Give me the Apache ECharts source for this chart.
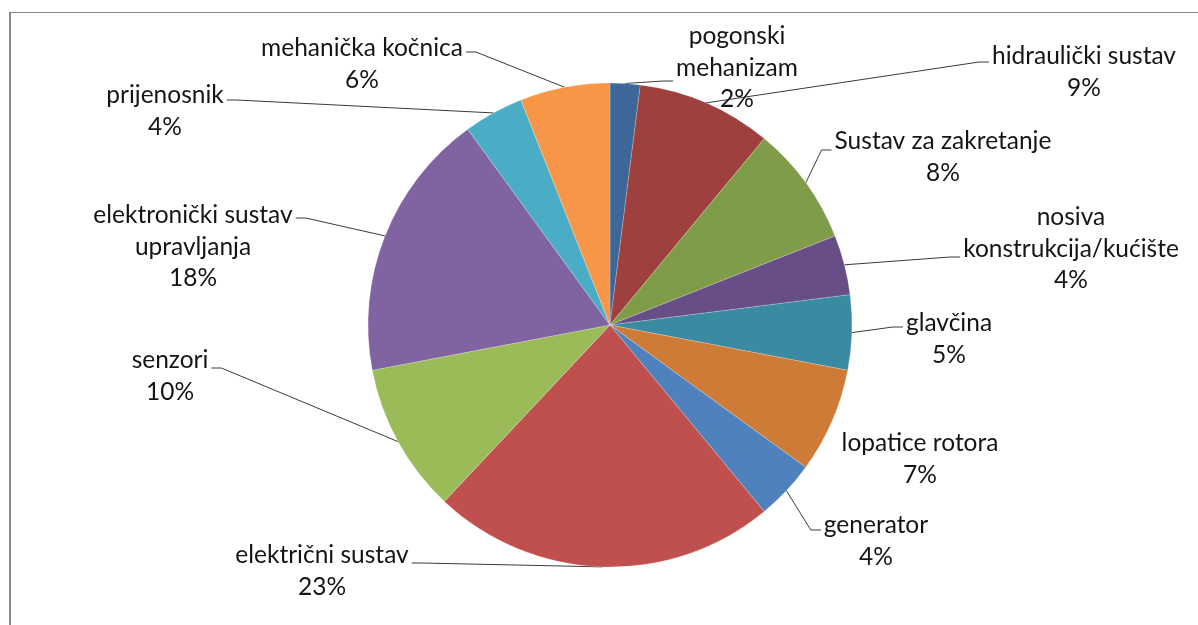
<!DOCTYPE html>
<html>
<head>
<meta charset="utf-8">
<script src="https://cdn.jsdelivr.net/npm/echarts@6/dist/echarts.min.js"></script>
<style>
  html, body { margin: 0; padding: 0; background: #fff; }
  #chart { width: 1198px; height: 625px; position: relative; }
  /* chart-area frame, runs off the right and bottom of the picture */
  .frame {
    position: absolute; left: 9px; top: 12px; width: 1300px; height: 700px;
    border-left: 2px solid #8a8a8a; border-top: 1.5px solid #8a8a8a;
    pointer-events: none;
  }
</style>
</head>
<body>
<div id="chart"></div>
<div class="frame"></div>
<script>
// categories, clockwise from 12 o'clock
const names = [
  'pogonski\nmehanizam', 'hidraulički sustav', 'Sustav za zakretanje',
  'nosiva\nkonstrukcija/kućište', 'glavčina', 'lopatice rotora', 'generator',
  'električni sustav', 'senzori', 'elektronički sustav\nupravljanja',
  'prijenosnik', 'mehanička kočnica',
]
const shares = [2, 9, 8, 4, 5, 7, 4, 23, 10, 18, 4, 6]
const colors = [
  '#3d6699', '#9e413e', '#7f9c48', '#674e86', '#3a8ba1', '#cf7b38',
  '#4f81bd', '#c0504d', '#9bbb59', '#8064a2', '#4bacc6', '#f79646',
]

// label layout: [centre x, centre y, leader attach y]
const labelPos = [
  [737, 68, 81], [1084, 72, 62], [943, 157, 150], [1071, 249, 257],
  [949, 339, 327], [920, 459, null], [876, 541, 530], [322, 571, 563],
  [170, 376, 368], [193, 247, 218], [165, 111, 100], [362, 64, 52],
]

const CX = 610, CY = 325, R = 242
const total = shares.reduce((a, b) => a + b, 0)

// point on the rim at the middle of slice i
function rimPoint(i) {
  let before = 0
  for (let k = 0; k < i; k++) before += shares[k]
  const frac = (before + shares[i] / 2) / total
  const a = (90 - frac * 360) * Math.PI / 180
  return [CX + R * Math.cos(a), CY - R * Math.sin(a)]
}

const chart = echarts.init(document.getElementById('chart'))

chart.setOption({
  animation: false,
  series: [{
    type: 'pie',
    center: [CX, CY],
    radius: R,
    startAngle: 90,
    clockwise: true,
    avoidLabelOverlap: false,
    itemStyle: { borderColor: 'rgba(255,255,255,0.35)', borderWidth: 0.6 },
    label: {
      show: true,
      position: 'outside',
      fontFamily: 'Lato',
      fontSize: 24.5,
      lineHeight: 31.5,
      color: '#151515',
      formatter: p => p.name + '\n' + p.value + '%',
    },
    labelLine: {
      show: true,
      lineStyle: { color: '#3a3a3a', width: 1 },
    },
    labelLayout: params => {
      const i = params.dataIndex
      const [x, y, ly] = labelPos[i]
      const out = { x, y, align: 'center', verticalAlign: 'middle' }
      if (ly != null) {
        const p0 = rimPoint(i)
        const half = params.labelRect.width / 2
        const right = p0[0] > x   // label sits left of the pie point
        const ex = right ? x + half + 3 : x - half - 3
        const bx = right ? ex + 10 : ex - 10
        out.labelLinePoints = [p0, [bx, ly], [ex, ly]]
      }
      return out
    },
    data: names.map((n, i) => ({
      name: n,
      value: shares[i],
      itemStyle: { color: colors[i] },
      labelLine: { show: labelPos[i][2] != null },
    })),
  }],
})
</script>
</body>
</html>
